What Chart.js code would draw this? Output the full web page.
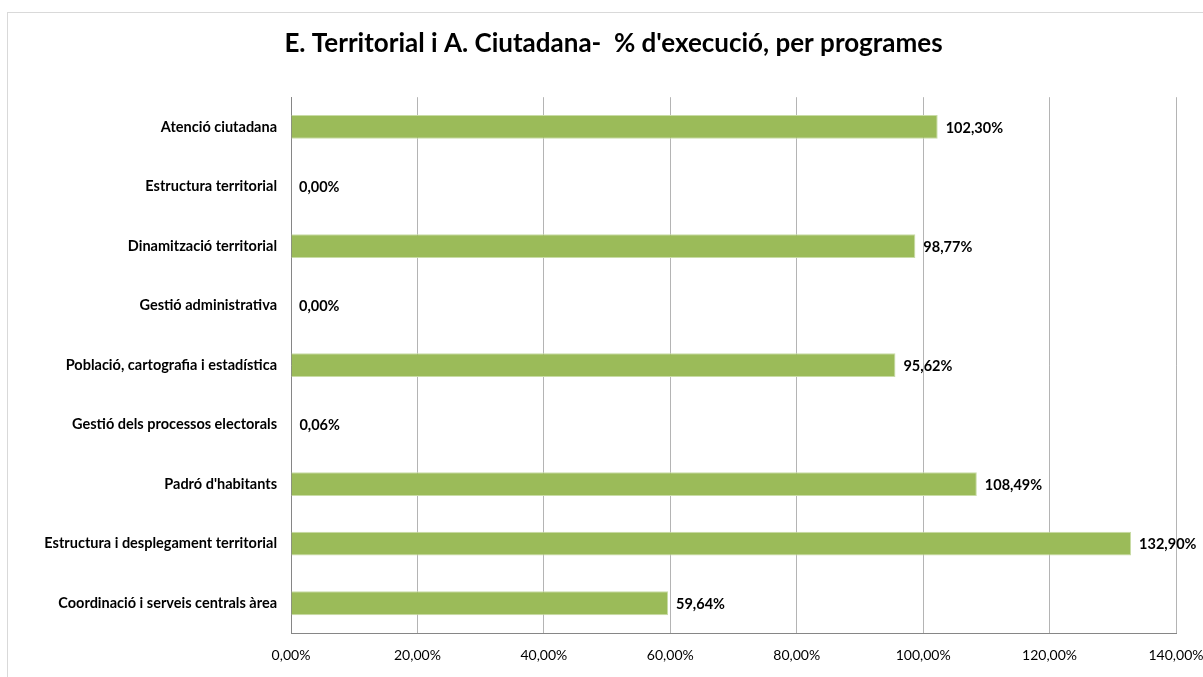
<!DOCTYPE html>
<html lang="ca">
<head>
<meta charset="UTF-8">
<title>E. Territorial i A. Ciutadana - % d'execució</title>
<script src="https://cdn.jsdelivr.net/npm/chart.js"></script>
<style>
  html, body { margin: 0; padding: 0; background: #fff; overflow: hidden; }
  #frame { position: absolute; left: 7px; top: 12px; width: 1300px; height: 800px; border: 1px solid #d9d9d9; }
  #wrap { position: absolute; left: 0; top: 0; width: 1203px; height: 677px; }
</style>
</head>
<body>
<div id="frame"></div>
<div id="wrap"><canvas id="execChart" width="1203" height="677"></canvas></div>
<script>
// programes i % d'execució
const programes = [
  "Atenció ciutadana",
  "Estructura territorial",
  "Dinamització territorial",
  "Gestió administrativa",
  "Població, cartografia i estadística",
  "Gestió dels processos electorals",
  "Padró d'habitants",
  "Estructura i desplegament territorial",
  "Coordinació i serveis centrals àrea"
];
const execucio = [102.30, 0.00, 98.77, 0.00, 95.62, 0.06, 108.49, 132.90, 59.64];

const fmt = v => v.toFixed(2).replace('.', ',') + '%';
const FONT = "Lato, 'Open Sans', sans-serif";

// etiquetes de valor al final de cada barra
const valueLabels = {
  id: 'valueLabels',
  afterDatasetsDraw(chart) {
    const ctx = chart.ctx;
    const meta = chart.getDatasetMeta(0);
    ctx.save();
    ctx.font = "bold 14.5px " + FONT;
    ctx.fillStyle = '#000';
    ctx.textBaseline = 'middle';
    ctx.textAlign = 'left';
    meta.data.forEach((bar, i) => {
      ctx.fillText(fmt(execucio[i]), bar.x + 8, bar.y + 1);
    });
    ctx.restore();
  }
};

new Chart(document.getElementById('execChart'), {
  type: 'bar',
  data: {
    labels: programes,
    datasets: [{
      data: execucio,
      backgroundColor: '#9bbb59',
      borderColor: '#c9dca6',
      borderWidth: 1,
      barPercentage: 1,
      categoryPercentage: 0.4
    }]
  },
  options: {
    indexAxis: 'y',
    responsive: false,
    animation: false,
    layout: { padding: { left: 24, right: 0, top: 0, bottom: 0 } },
    plugins: {
      legend: { display: false },
      tooltip: { enabled: false },
      title: {
        display: true,
        text: "E. Territorial i A. Ciutadana-  % d'execució, per programes",
        color: '#000',
        font: { family: FONT, size: 26, weight: 'bold' },
        padding: { top: 28, bottom: 38 }
      }
    },
    scales: {
      x: {
        min: 0,
        max: 140,
        ticks: {
          stepSize: 20,
          color: '#000',
          padding: 14,
          font: { family: FONT, size: 14 },
          callback: v => fmt(v)
        },
        grid: { color: '#b4b4b4', drawTicks: false },
        border: { color: '#868686', width: 1 },
        afterFit: s => { s.height = 44; s.paddingLeft = 0; s.paddingRight = 27; }
      },
      y: {
        ticks: {
          color: '#000',
          padding: 14,
          font: { family: FONT, size: 14.5, weight: 'bold' }
        },
        grid: { display: false, drawTicks: false },
        border: { color: '#868686', width: 1 },
        afterFit: s => { s.width = 267; }
      }
    }
  },
  plugins: [valueLabels]
});
</script>
</body>
</html>
